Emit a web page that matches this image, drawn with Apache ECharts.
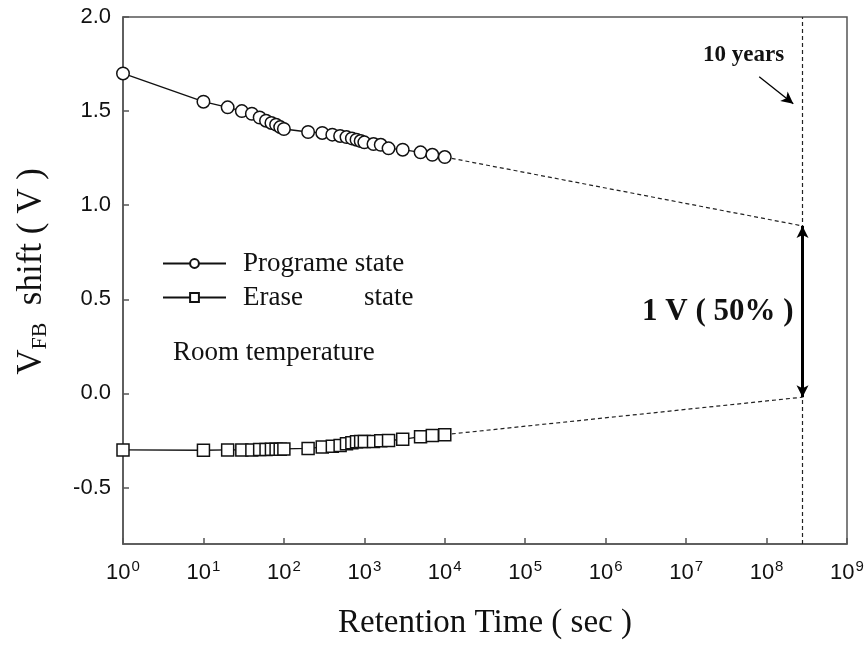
<!DOCTYPE html>
<html>
<head>
<meta charset="utf-8">
<script src="https://cdn.jsdelivr.net/npm/echarts@6/dist/echarts.min.js"></script>
<style>
  html, body { margin: 0; padding: 0; background: #fff; }
  #chart { width: 868px; height: 645px; }
</style>
</head>
<body>
<div id="chart"></div>
<script>
// Retention measurement times (s)
const retentionTimes = [1, 10, 20, 30, 40, 50, 60, 70, 80, 90, 100,
  200, 300, 400, 500, 600, 700, 800, 900, 1000, 1300, 1600, 2000, 3000, 5000, 7000, 10000];

// Flat-band voltage shift, programmed state (V)
const programShift = [1.70, 1.55, 1.52, 1.50, 1.486, 1.466, 1.449, 1.437, 1.428, 1.415, 1.405,
  1.389, 1.384, 1.375, 1.368, 1.362, 1.355, 1.348, 1.341, 1.334, 1.325, 1.321, 1.302, 1.295, 1.281, 1.268, 1.256];

// Flat-band voltage shift, erased state (V)
const eraseShift = [-0.30, -0.302, -0.30, -0.30, -0.30, -0.298, -0.298, -0.297, -0.296, -0.296, -0.295,
  -0.292, -0.285, -0.281, -0.276, -0.267, -0.262, -0.257, -0.256, -0.255, -0.255, -0.251, -0.25, -0.244, -0.23, -0.223, -0.219];

// Ten-year point and extrapolated values there
const tenYears = 2.8e8;
const programAtTenYears = 0.89;
const eraseAtTenYears = -0.02;

// Y tick values
const yTicks = [-0.5, 0, 0.5, 1.0, 1.5, 2.0];

const programData = retentionTimes.map((t, i) => [t, programShift[i]]);
const eraseData = retentionTimes.map((t, i) => [t, eraseShift[i]]);
const lastTime = retentionTimes[retentionTimes.length - 1];

const serif = '"Liberation Serif", "Times New Roman", serif';
const sans = '"Liberation Sans", Arial, sans-serif';
const ink = '#111';
const axisColor = '#555';

const chart = echarts.init(document.getElementById('chart'));

const markerStyle = { color: '#fff', borderColor: ink, borderWidth: 1.5 };

chart.setOption({
  animation: false,
  backgroundColor: '#fff',
  grid: {
    left: 123, right: 21, top: 17, bottom: 100,
    show: true, borderColor: axisColor, borderWidth: 1.5, backgroundColor: 'transparent'
  },
  legend: {
    left: 157, top: 245, orient: 'vertical',
    itemWidth: 63, itemHeight: 11, itemGap: 7,
    data: ['Programe state', 'Erase state'],
    textStyle: {
      fontFamily: serif, fontSize: 27, color: ink, padding: [0, 0, 0, 12],
      rich: { w: { fontFamily: serif, fontSize: 27, color: ink, width: 121 } }
    },
    formatter: name => name === 'Erase state' ? '{w|Erase}state' : name
  },
  xAxis: {
    type: 'log', logBase: 10, min: 1, max: 1e9, splitNumber: 9,
    name: 'Retention Time ( sec )', nameLocation: 'middle', nameGap: 63,
    nameTextStyle: { fontFamily: serif, fontSize: 33, color: ink },
    axisLine: { onZero: false, lineStyle: { color: axisColor, width: 1.5 } },
    axisTick: { inside: true, length: 6, lineStyle: { color: axisColor, width: 1.5 } },
    splitLine: { show: false },
    minorTick: { show: false },
    axisLabel: {
      margin: 15, color: ink,
      formatter: v => '{b|10}{s|' + Math.round(Math.log10(v)) + '}',
      rich: {
        b: { fontFamily: sans, fontSize: 22, color: ink },
        s: { fontFamily: sans, fontSize: 15, color: ink, padding: [0, 0, 12, 1] }
      }
    }
  },
  yAxis: {
    type: 'value', min: -0.8, max: 2.0,
    name: '{v|V}{s|FB}{v|  shift ( V )}', nameLocation: 'middle', nameGap: 72, nameRotate: 90,
    nameTextStyle: {
      padding: [0, 0, 0, 18],
      rich: {
        v: { fontFamily: serif, fontSize: 35, color: ink },
        s: { fontFamily: serif, fontSize: 22, color: ink, padding: [16, 0, 0, 0] }
      }
    },
    axisLine: { lineStyle: { color: axisColor, width: 1.5 } },
    axisTick: { inside: true, length: 6, customValues: yTicks, lineStyle: { color: axisColor, width: 1.5 } },
    splitLine: { show: false },
    axisLabel: {
      customValues: yTicks, margin: 12,
      fontFamily: sans, fontSize: 22, color: ink,
      formatter: v => v.toFixed(1)
    }
  },
  series: [
    {
      name: 'Programe state', type: 'line', data: programData, clip: false,
      symbol: 'circle', symbolSize: 12.5, itemStyle: markerStyle,
      lineStyle: { color: ink, width: 1.3 }, z: 5
    },
    {
      name: 'Erase state', type: 'line', data: eraseData, clip: false,
      symbol: 'rect', symbolSize: 12, itemStyle: markerStyle,
      lineStyle: { color: ink, width: 1.3 }, z: 5
    },
    {
      // extrapolation of the programmed state to ten years
      type: 'line', silent: true, symbol: 'none',
      data: [[lastTime, programShift[programShift.length - 1]], [tenYears, programAtTenYears]],
      lineStyle: { color: '#222', width: 1.2, type: [4, 3] }
    },
    {
      // extrapolation of the erased state to ten years
      type: 'line', silent: true, symbol: 'none',
      data: [[lastTime, eraseShift[eraseShift.length - 1]], [tenYears, eraseAtTenYears]],
      lineStyle: { color: '#222', width: 1.2, type: [4, 3] },
      markLine: {
        silent: true, animation: false, label: { show: false },
        data: [
          // ten-year marker
          [{ coord: [tenYears, -0.8], symbol: 'none' }, { coord: [tenYears, 2.0], symbol: 'none',
            lineStyle: { color: '#222', width: 1.2, type: [4, 3] } }],
          // memory window
          [{ coord: [tenYears, programAtTenYears], symbol: 'arrow' }, { coord: [tenYears, eraseAtTenYears], symbol: 'arrow',
            lineStyle: { color: '#000', width: 3, type: 'solid' } }],
          // pointer to the ten-year line
          [{ coord: [8.1e7, 1.683], symbol: 'none' }, { coord: [2.15e8, 1.539], symbol: 'arrow',
            lineStyle: { color: '#000', width: 1.3, type: 'solid' } }]
        ],
        symbolSize: [9, 12]
      }
    }
  ],
  graphic: [
    {
      type: 'text', left: 703, top: 44,
      style: { text: '10 years', fontFamily: serif, fontWeight: 'bold', fontSize: 23, fill: ink }
    },
    {
      type: 'text', left: 642, top: 296,
      style: { text: '1 V ( 50% )', fontFamily: serif, fontWeight: 'bold', fontSize: 31, fill: ink }
    },
    {
      type: 'text', left: 173, top: 339,
      style: { text: 'Room temperature', fontFamily: serif, fontSize: 27, fill: ink }
    }
  ]
});
</script>
</body>
</html>
